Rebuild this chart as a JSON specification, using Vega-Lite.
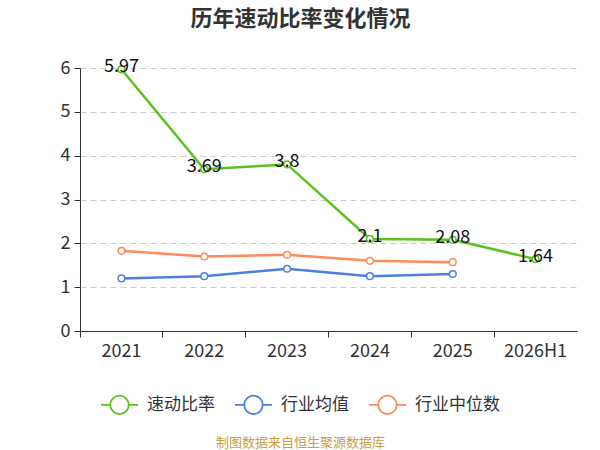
{
  "$schema": "https://vega.github.io/schema/vega-lite/v6.json",
  "width": 497,
  "height": 263,
  "autosize": "none",
  "padding": {"left": 80, "top": 68, "right": 23, "bottom": 119},
  "background": "white",
  "config": {
    "font": "Noto Sans CJK SC",
    "view": {"stroke": null}
  },
  "title": {
    "text": "历年速动比率变化情况",
    "fontSize": 22,
    "fontWeight": "bold",
    "color": "#333333",
    "anchor": "middle",
    "frame": "group",
    "dx": -28,
    "offset": 17,
    "baseline": "middle"
  },
  "data": {
    "values": [
      {"year": "2021", "series": "速动比率", "value": 5.97},
      {"year": "2022", "series": "速动比率", "value": 3.69},
      {"year": "2023", "series": "速动比率", "value": 3.8},
      {"year": "2024", "series": "速动比率", "value": 2.1},
      {"year": "2025", "series": "速动比率", "value": 2.08},
      {"year": "2026H1", "series": "速动比率", "value": 1.64},
      {"year": "2021", "series": "行业均值", "value": 1.2},
      {"year": "2022", "series": "行业均值", "value": 1.25},
      {"year": "2023", "series": "行业均值", "value": 1.42},
      {"year": "2024", "series": "行业均值", "value": 1.25},
      {"year": "2025", "series": "行业均值", "value": 1.3},
      {"year": "2021", "series": "行业中位数", "value": 1.83},
      {"year": "2022", "series": "行业中位数", "value": 1.7},
      {"year": "2023", "series": "行业中位数", "value": 1.74},
      {"year": "2024", "series": "行业中位数", "value": 1.6},
      {"year": "2025", "series": "行业中位数", "value": 1.57}
    ]
  },
  "encoding": {
    "x": {
      "field": "year",
      "type": "ordinal",
      "sort": null,
      "scale": {"type": "band", "paddingInner": 0, "paddingOuter": 0},
      "axis": {
        "bandPosition": 0,
        "labelAngle": 0,
        "labelFontSize": 18,
        "labelColor": "#333333",
        "labelPadding": 5,
        "tickSize": 6,
        "tickColor": "#333333",
        "domainColor": "#333333",
        "grid": false,
        "title": "制图数据来自恒生聚源数据库",
        "titleFontSize": 13,
        "titleFontWeight": "normal",
        "titleColor": "#c9a040",
        "titleX": 220,
        "titleY": 111,
        "titleAlign": "center",
        "titleBaseline": "middle"
      }
    },
    "y": {
      "field": "value",
      "type": "quantitative",
      "scale": {"domain": [0, 6], "nice": false},
      "axis": {
        "values": [0, 1, 2, 3, 4, 5, 6],
        "title": null,
        "labelFontSize": 18,
        "labelColor": "#333333",
        "labelPadding": 4,
        "tickSize": 6,
        "tickColor": "#333333",
        "domainColor": "#333333",
        "gridDash": [6, 4],
        "gridColor": "#cccccc"
      }
    },
    "color": {
      "field": "series",
      "type": "nominal",
      "scale": {
        "domain": ["速动比率", "行业均值", "行业中位数"],
        "range": ["#5ac21e", "#4d7fe3", "#ff8a5b"]
      },
      "legend": {
        "title": null,
        "orient": "none",
        "direction": "horizontal",
        "legendX": 20,
        "legendY": 317,
        "labelFontSize": 17,
        "labelColor": "#333333",
        "symbolType": "M-1,0L-0.5,0M0.5,0L1,0M-0.5,0A0.5,0.5 0 1,1 0.5,0A0.5,0.5 0 1,1 -0.5,0",
        "symbolSize": 1369,
        "symbolStrokeWidth": 1.8,
        "symbolFillColor": "white",
        "labelOffset": 8,
        "columnPadding": 16
      }
    }
  },
  "layer": [
    {
      "mark": {"type": "line", "strokeWidth": 2.5}
    },
    {
      "mark": {"type": "point", "filled": false, "fill": "white", "fillOpacity": 1, "opacity": 1, "size": 45, "strokeWidth": 1.5}
    },
    {
      "transform": [{"filter": "datum.series === '速动比率'"}],
      "mark": {"type": "text", "fontSize": 18, "color": "#111111", "baseline": "middle", "dy": -2},
      "encoding": {
        "text": {"field": "value", "type": "quantitative"},
        "color": {"value": "#111111"}
      }
    }
  ]
}
